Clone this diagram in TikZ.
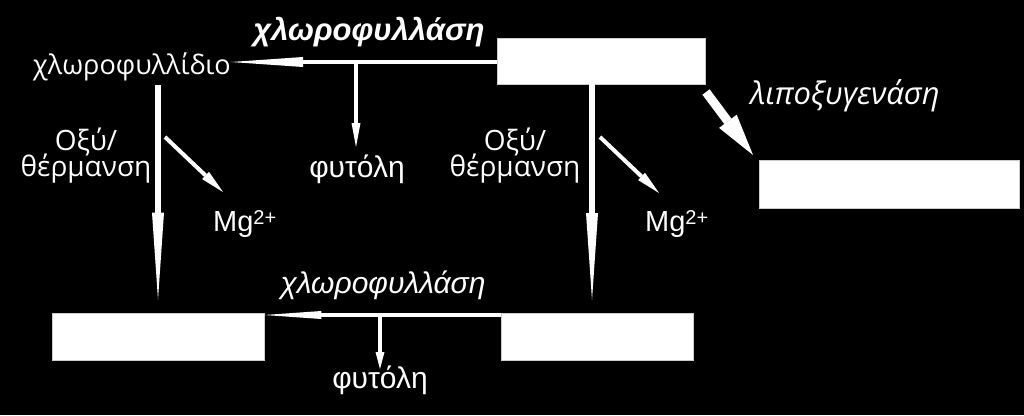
\documentclass[tikz,border=0pt]{standalone}
\usepackage{fontspec}
\setmainfont{Liberation Sans}
\newfontfamily\osans{Open Sans}
\usetikzlibrary{arrows.meta,calc}
\begin{document}
\begin{tikzpicture}[x=1pt,y=-1pt,
  every node/.style={text=white,inner sep=0pt,font=\fontsize{30}{34}\selectfont},
  osfont/.style={font=\osans\fontsize{28}{30}\selectfont},
  mgfont/.style={font=\fontsize{29}{30}\selectfont},
  whitebox/.style={fill=white,draw=white!80!black,line width=0.6pt,minimum width=#1,inner sep=0pt},
  wline/.style={draw=white,fill=white,line width=#1},
  tip/.style args={#1/#2}{-{Triangle[length=#1pt,width=#2pt,line width=0pt]}},
]
\useasboundingbox[fill=black] (0,0) rectangle (1024,415);
% boxes
\node[whitebox=208pt,minimum height=46pt] (b1) at (601,61) {};
\node[whitebox=260pt,minimum height=48pt] (b2) at (889,184) {};
\node[whitebox=212pt,minimum height=47pt] (b3) at (158,336.5) {};
\node[whitebox=192pt,minimum height=47pt] (b4) at (597,336.5) {};
% texts
\node[anchor=base,font=\fontsize{31}{34}\selectfont\bfseries\itshape] (enz1) at (369,40) {χλωροφυλλάση};
\node[anchor=base east,font=\osans\fontsize{27}{30}\selectfont] (chl) at (231,74) {χλωροφυλλίδιο};
\node[anchor=base] (fyt1) at (357,177) {φυτόλη};
\node[anchor=base,osfont,text depth=0pt] (ox1a) at (86,150) {Οξύ/};
\node[anchor=base,osfont] (ox1b) at (86,176) {θέρμανση};
\node[anchor=base,osfont,text depth=0pt] (ox2a) at (515,150) {Οξύ/};
\node[anchor=base,osfont] (ox2b) at (515,176) {θέρμανση};
\node[anchor=base west,mgfont] (mg1) at (213,231) {Mg\raisebox{7pt}{\fontsize{20}{22}\selectfont 2+}};
\node[anchor=base west,mgfont] (mg2) at (645,231) {Mg\raisebox{7pt}{\fontsize{20}{22}\selectfont 2+}};
\node[anchor=base,font=\osans\fontsize{31}{34}\selectfont\itshape] (lox) at (845,104) {λιποξυγενάση};
\node[anchor=base,font=\fontsize{30}{34}\selectfont\itshape] (enz2) at (383,293) {χλωροφυλλάση};
\node[anchor=base] (fyt2) at (380,388) {φυτόλη};
% coordinates
\coordinate (t1) at (356,62);
\coordinate (t2) at (380,315);
\coordinate (d1a) at (165,137);
\coordinate (d1b) at (223,192);
\coordinate (d2a) at (600,137);
\coordinate (d2b) at (659,193);
\coordinate (l1) at (706,92);
\coordinate (l2) at (753,155);
% arrows
\draw[wline=4pt,tip=72/10] (b1.west |- t1) -- (t1 -| chl.east);
\draw[wline=3.5pt,tip=24/9] (t1) -- (356,147);
\draw[wline=6pt,tip=87/12] (158,85) -- ($(b3.north)+(0,-13)$);
\draw[wline=6pt,tip=87/12] (592,84) -- (592,300);
\draw[wline=4pt,tip=24/10] (d1a) -- (d1b);
\draw[wline=4pt,tip=24/10] (d2a) -- (d2b);
\draw[wline=9pt,tip=42/22] (l1) -- (l2);
\draw[wline=3.5pt,tip=57/8] (b4.west |- t2) -- (b3.east |- t2);
\draw[wline=3.5pt,tip=17/9] (t2) -- (380,369);
\end{tikzpicture}
\end{document}
